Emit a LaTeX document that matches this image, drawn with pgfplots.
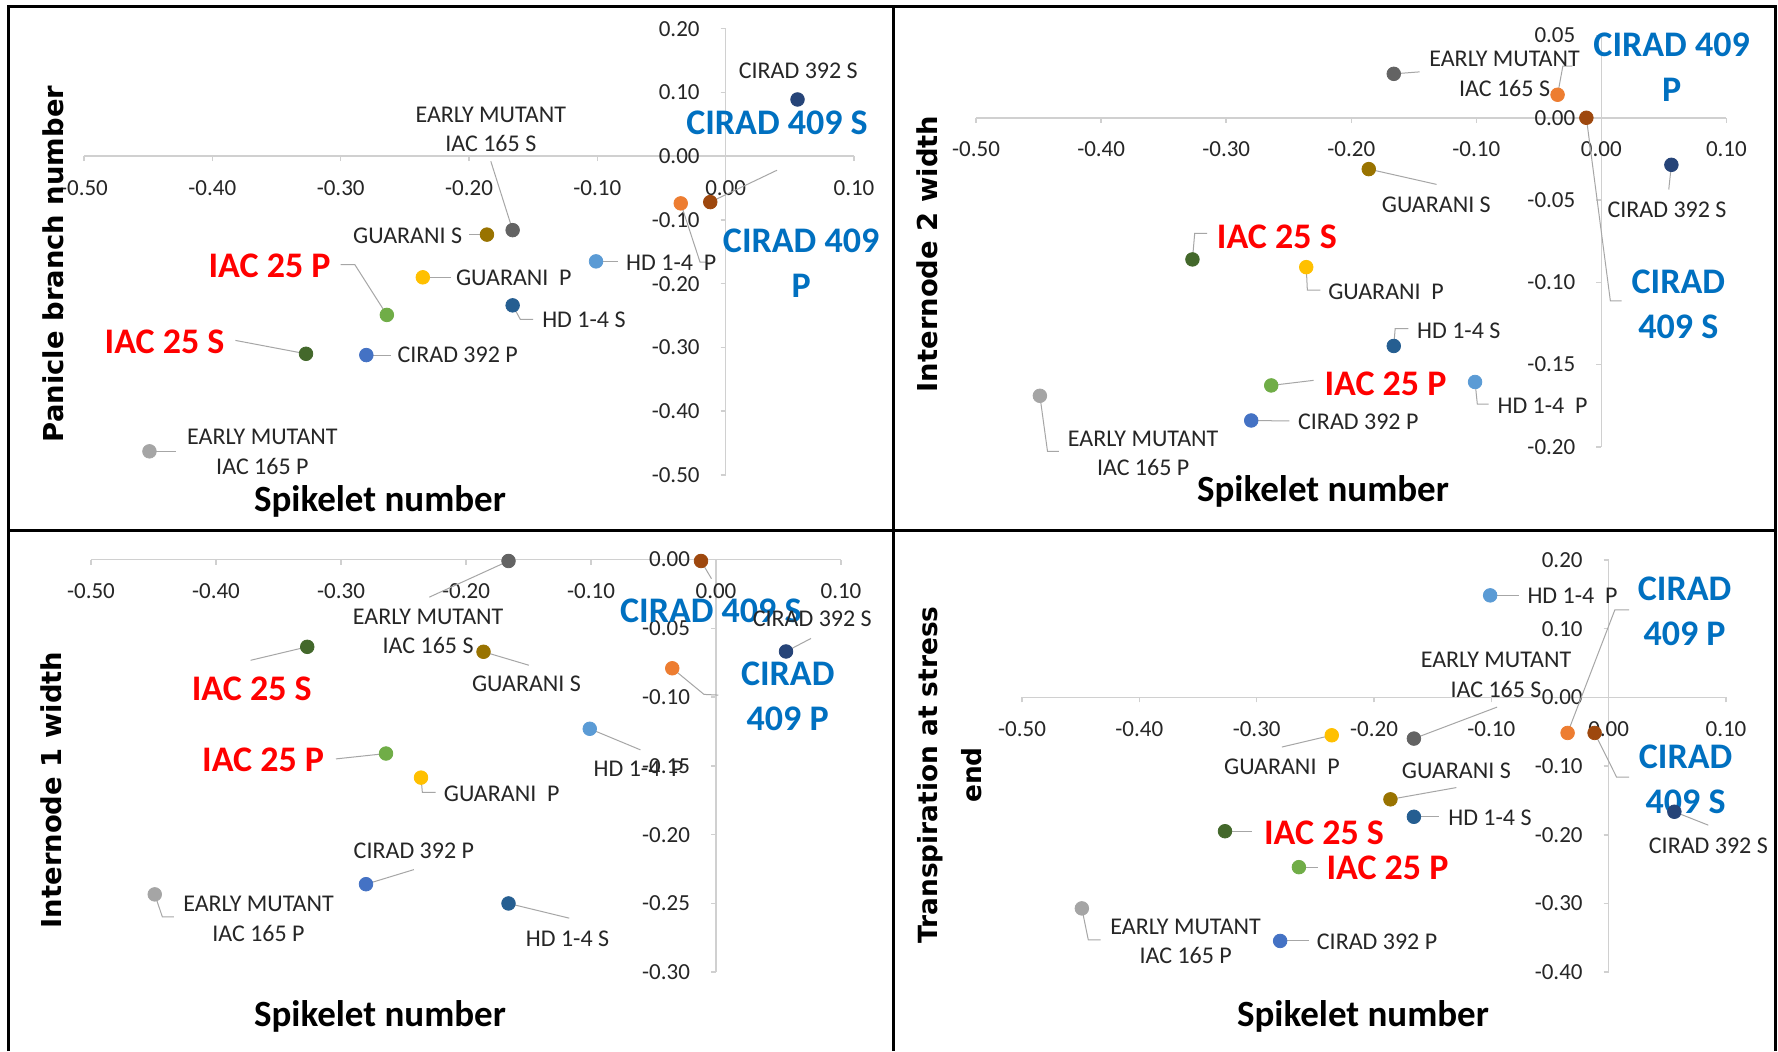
\documentclass[border=0pt]{standalone}
\usepackage{pgfplots}
\usepackage{pgfplotstable}
\pgfplotsset{compat=1.18}
\usepackage{fontspec}
\setmainfont{Carlito}
\newfontfamily\dvs{DejaVu Sans}
\definecolor{cA}{HTML}{264478}
\definecolor{cB}{HTML}{9E480E}
\definecolor{cC}{HTML}{ED7D31}
\definecolor{cD}{HTML}{636363}
\definecolor{cE}{HTML}{997300}
\definecolor{cF}{HTML}{5B9BD5}
\definecolor{cG}{HTML}{FFC000}
\definecolor{cH}{HTML}{255E91}
\definecolor{cI}{HTML}{70AD47}
\definecolor{cJ}{HTML}{43682B}
\definecolor{cK}{HTML}{4472C4}
\definecolor{cL}{HTML}{A5A5A5}
\definecolor{axgray}{HTML}{D0D0D0}
\definecolor{ldgray}{HTML}{A6A6A6}
\definecolor{txgray}{HTML}{262626}
\definecolor{bluelbl}{HTML}{0070C0}
\definecolor{redlbl}{HTML}{FF0000}

\pgfplotsset{
  panel/.style={
    scale only axis, anchor=south west,
    axis x line=middle, axis y line=middle,
    xmin=-0.5, xmax=0.1,
    xtick={-0.5,-0.4,-0.3,-0.2,-0.1,0,0.1},
    xticklabels={-0.50,-0.40,-0.30,-0.20,-0.10,0.00,0.10},
    axis line style={draw=axgray, line width=0.75pt, -},
    tick style={draw=axgray, line width=0.75pt},
    tick align=outside, major tick length=2.5pt,
    hide obscured x ticks=false, hide obscured y ticks=false,
    ticklabel style={font=\fontsize{11.5}{13}\selectfont, text=txgray},
    xticklabel style={yshift=-6pt},
    yticklabel style={xshift=-7pt},
    clip=false, enlargelimits=false,
  },
  gcls/.style={scatter, only marks, scatter src=explicit symbolic, mark size=3.4pt,
    scatter/classes={
      a={mark=*, draw=cA, fill=cA}, b={mark=*, draw=cB, fill=cB},
      c={mark=*, draw=cC, fill=cC}, d={mark=*, draw=cD, fill=cD},
      e={mark=*, draw=cE, fill=cE}, f={mark=*, draw=cF, fill=cF},
      g={mark=*, draw=cG, fill=cG}, h={mark=*, draw=cH, fill=cH},
      i={mark=*, draw=cI, fill=cI}, j={mark=*, draw=cJ, fill=cJ},
      k={mark=*, draw=cK, fill=cK}, l={mark=*, draw=cL, fill=cL}}},
}
\tikzset{
  ld/.style={draw=ldgray, line width=0.5pt},
  lb/.style={inner sep=0pt, font=\fontsize{12}{14.7}\selectfont, text=txgray, align=center},
  rd/.style={inner sep=0pt, font=\fontsize{18}{22.5}\selectfont\bfseries, text=redlbl, align=center},
  bl/.style={inner sep=0pt, font=\fontsize{18}{22.5}\selectfont\bfseries, text=bluelbl, align=center},
  xt/.style={inner sep=0pt, font=\fontsize{18.5}{22}\selectfont\bfseries, text=black},
  yt/.style={inner sep=0pt, font=\dvs\fontsize{13.7}{22}\selectfont\bfseries, text=black, rotate=90, align=center},
}

% columns: x = spikelet number loading, y = trait loading, g = genotype class
\pgfplotstableread{
x y g
0.056 0.089 a
-0.012 -0.072 b
-0.035 -0.074 c
-0.166 -0.116 d
-0.186 -0.123 e
-0.101 -0.165 f
-0.236 -0.190 g
-0.166 -0.234 h
-0.264 -0.249 i
-0.327 -0.310 j
-0.280 -0.312 k
-0.449 -0.463 l
}\dataA
\pgfplotstableread{
x y g
0.056 -0.0286 a
-0.012 0.000 b
-0.035 0.014 c
-0.166 0.0267 d
-0.186 -0.0312 e
-0.101 -0.1606 f
-0.236 -0.0908 g
-0.166 -0.1387 h
-0.264 -0.1627 i
-0.327 -0.0861 j
-0.280 -0.184 k
-0.449 -0.169 l
}\dataB
\pgfplotstableread{
x y g
0.056 -0.0668 a
-0.012 -0.001 b
-0.035 -0.079 c
-0.166 -0.001 d
-0.186 -0.067 e
-0.101 -0.123 f
-0.236 -0.1585 g
-0.166 -0.250 h
-0.264 -0.141 i
-0.327 -0.0634 j
-0.280 -0.236 k
-0.449 -0.2434 l
}\dataC
\pgfplotstableread{
x y g
0.056 -0.1665 a
-0.012 -0.0518 b
-0.035 -0.0518 c
-0.166 -0.060 d
-0.186 -0.1484 e
-0.101 0.1484 f
-0.236 -0.0552 g
-0.166 -0.1738 h
-0.264 -0.2471 i
-0.327 -0.1948 j
-0.280 -0.3545 k
-0.449 -0.3071 l
}\dataD

\begin{document}
\begin{tikzpicture}
\useasboundingbox (0,0) rectangle (889pt,-525.5pt);
\fill[white] (0,0) rectangle (889pt,-525.5pt);

% ---------- Panel 1 ----------
\begin{axis}[panel, at={(42pt,-237.45pt)}, width=385pt, height=223.1pt,
  ymin=-0.5, ymax=0.2,
  ytick={-0.5,-0.4,-0.3,-0.2,-0.1,0,0.1,0.2},
  yticklabels={-0.50,-0.40,-0.30,-0.20,-0.10,0.00,0.10,0.20}]
\draw[ld] (axis cs:0.040,-0.022) -- (axis cs:-0.012,-0.072);
\draw[ld] (axis cs:-0.035,-0.074) -- (axis cs:-0.020,-0.166) -- (axis cs:-0.015,-0.166);
\draw[ld] (axis cs:-0.183,-0.008) -- (axis cs:-0.166,-0.116);
\draw[ld] (axis cs:-0.200,-0.123) -- (axis cs:-0.186,-0.123);
\draw[ld] (axis cs:-0.300,-0.170) -- (axis cs:-0.289,-0.170) -- (axis cs:-0.264,-0.249);
\draw[ld] (axis cs:-0.236,-0.190) -- (axis cs:-0.214,-0.190);
\draw[ld] (axis cs:-0.101,-0.165) -- (axis cs:-0.084,-0.165);
\draw[ld] (axis cs:-0.166,-0.234) -- (axis cs:-0.160,-0.256) -- (axis cs:-0.150,-0.256);
\draw[ld] (axis cs:-0.382,-0.289) -- (axis cs:-0.327,-0.310);
\draw[ld] (axis cs:-0.280,-0.312) -- (axis cs:-0.261,-0.312);
\draw[ld] (axis cs:-0.449,-0.463) -- (axis cs:-0.428,-0.463);
\addplot[gcls] table[x=x,y=y,meta=g] {\dataA};
\node[lb] at (axis cs:0.0566,0.1336) {CIRAD 392 S};
\node[bl] at (axis cs:0.040,0.053) {CIRAD 409 S};
\node[bl] at (axis cs:0.0588,-0.1686) {CIRAD 409\\P};
\node[lb] at (axis cs:-0.183,0.0419) {EARLY MUTANT\\IAC 165 S};
\node[lb, anchor=east] at (axis cs:-0.2051,-0.125) {GUARANI S};
\node[rd] at (axis cs:-0.3554,-0.172) {IAC 25 P};
\node[lb, anchor=west] at (axis cs:-0.2104,-0.191) {GUARANI\hspace{0.45em}P};
\node[lb, anchor=west] at (axis cs:-0.0778,-0.167) {HD 1-4\hspace{0.45em}P};
\node[lb, anchor=west] at (axis cs:-0.1432,-0.256) {HD 1-4 S};
\node[rd] at (axis cs:-0.4372,-0.2906) {IAC 25 S};
\node[lb, anchor=west] at (axis cs:-0.256,-0.312) {CIRAD 392 P};
\node[lb] at (axis cs:-0.361,-0.464) {EARLY MUTANT\\IAC 165 P};
\end{axis}

% ---------- Panel 2 ----------
\begin{axis}[panel, at={(488.05pt,-223.4pt)}, width=375.15pt, height=205.65pt,
  ymin=-0.2, ymax=0.05,
  ytick={-0.2,-0.15,-0.1,-0.05,0,0.05},
  yticklabels={-0.20,-0.15,-0.10,-0.05,0.00,0.05}]
\draw[ld] (axis cs:-0.166,0.0267) -- (axis cs:-0.1454,0.0279);
\draw[ld] (axis cs:-0.035,0.014) -- (axis cs:-0.0308,0.0314) -- (axis cs:-0.0231,0.0314);
\draw[ld] (axis cs:-0.012,0.0) -- (axis cs:0.0072,-0.1113) -- (axis cs:0.0163,-0.1113);
\draw[ld] (axis cs:-0.186,-0.0312) -- (axis cs:-0.1318,-0.0405);
\draw[ld] (axis cs:0.056,-0.0286) -- (axis cs:0.0539,-0.0436);
\draw[ld] (axis cs:-0.327,-0.0861) -- (axis cs:-0.3252,-0.0703) -- (axis cs:-0.3152,-0.0703);
\draw[ld] (axis cs:-0.236,-0.0908) -- (axis cs:-0.2351,-0.1048) -- (axis cs:-0.2246,-0.1048);
\draw[ld] (axis cs:-0.166,-0.1387) -- (axis cs:-0.1649,-0.1282) -- (axis cs:-0.1544,-0.1282);
\draw[ld] (axis cs:-0.264,-0.1627) -- (axis cs:-0.2301,-0.1596);
\draw[ld] (axis cs:-0.101,-0.1606) -- (axis cs:-0.0992,-0.174) -- (axis cs:-0.0901,-0.174);
\draw[ld] (axis cs:-0.280,-0.184) -- (axis cs:-0.2495,-0.1843);
\draw[ld] (axis cs:-0.449,-0.169) -- (axis cs:-0.4429,-0.2028) -- (axis cs:-0.4339,-0.2028);
\addplot[gcls] table[x=x,y=y,meta=g] {\dataB};
\node[lb] at (axis cs:-0.0774,0.0267) {EARLY MUTANT\\IAC 165 S};
\node[bl] at (axis cs:0.0562,0.0308) {CIRAD 409\\P};
\node[lb] at (axis cs:-0.132,-0.0528) {GUARANI S};
\node[lb] at (axis cs:0.0525,-0.0559) {CIRAD 392 S};
\node[rd] at (axis cs:-0.2595,-0.0723) {IAC 25 S};
\node[lb, anchor=west] at (axis cs:-0.2187,-0.1056) {GUARANI\hspace{0.45em}P};
\node[bl] at (axis cs:0.0616,-0.1134) {CIRAD\\409 S};
\node[lb, anchor=west] at (axis cs:-0.1476,-0.1294) {HD 1-4 S};
\node[rd] at (axis cs:-0.1726,-0.1617) {IAC 25 P};
\node[lb, anchor=west] at (axis cs:-0.0833,-0.175) {HD 1-4\hspace{0.45em}P};
\node[lb, anchor=west] at (axis cs:-0.2428,-0.1849) {CIRAD 392 P};
\node[lb] at (axis cs:-0.3664,-0.204) {EARLY MUTANT\\IAC 165 P};
\end{axis}

% ---------- Panel 3 ----------
\begin{axis}[panel, at={(45.5pt,-486.1pt)}, width=375pt, height=206.3pt,
  ymin=-0.3, ymax=0,
  ytick={-0.3,-0.25,-0.2,-0.15,-0.1,-0.05,0},
  yticklabels={-0.30,-0.25,-0.20,-0.15,-0.10,-0.05,0.00}]
\draw[ld] (axis cs:-0.166,-0.001) -- (axis cs:-0.2294,-0.0273);
\draw[ld] (axis cs:-0.012,-0.001) -- (axis cs:-0.0036,-0.0139);
\draw[ld] (axis cs:0.056,-0.0668) -- (axis cs:0.076,-0.0573);
\draw[ld] (axis cs:-0.327,-0.0634) -- (axis cs:-0.3723,-0.0732);
\draw[ld] (axis cs:-0.186,-0.067) -- (axis cs:-0.1497,-0.0768);
\draw[ld] (axis cs:-0.035,-0.079) -- (axis cs:-0.0096,-0.098) -- (axis cs:0.0018,-0.0985);
\draw[ld] (axis cs:-0.101,-0.123) -- (axis cs:-0.0605,-0.1383);
\draw[ld] (axis cs:-0.264,-0.141) -- (axis cs:-0.304,-0.1449);
\draw[ld] (axis cs:-0.236,-0.1585) -- (axis cs:-0.2349,-0.1693) -- (axis cs:-0.2244,-0.1693);
\draw[ld] (axis cs:-0.280,-0.236) -- (axis cs:-0.2417,-0.2254);
\draw[ld] (axis cs:-0.449,-0.2434) -- (axis cs:-0.4429,-0.2598) -- (axis cs:-0.4338,-0.2598);
\draw[ld] (axis cs:-0.166,-0.250) -- (axis cs:-0.1174,-0.2607);
\addplot[gcls] table[x=x,y=y,meta=g] {\dataC};
\node[lb] at (axis cs:-0.2303,-0.052) {EARLY MUTANT\\IAC 165 S};
\node[bl] at (axis cs:-0.0041,-0.0371) {CIRAD 409 S};
\node[lb] at (axis cs:0.077,-0.0432) {CIRAD 392 S};
\node[rd] at (axis cs:-0.3714,-0.0937) {IAC 25 S};
\node[lb] at (axis cs:-0.1516,-0.0902) {GUARANI S};
\node[bl] at (axis cs:0.0574,-0.0993) {CIRAD\\409 P};
\node[lb] at (axis cs:-0.0619,-0.1524) {HD 1-4\hspace{0.45em}P};
\node[rd] at (axis cs:-0.3623,-0.1456) {IAC 25 P};
\node[lb, anchor=west] at (axis cs:-0.218,-0.170) {GUARANI\hspace{0.45em}P};
\node[lb] at (axis cs:-0.2417,-0.212) {CIRAD 392 P};
\node[lb] at (axis cs:-0.366,-0.2612) {EARLY MUTANT\\IAC 165 P};
\node[lb] at (axis cs:-0.1188,-0.2756) {HD 1-4 S};
\end{axis}

% ---------- Panel 4 ----------
\begin{axis}[panel, at={(511pt,-486.1pt)}, width=352pt, height=206.15pt,
  ymin=-0.4, ymax=0.2,
  ytick={-0.4,-0.3,-0.2,-0.1,0,0.1,0.2},
  yticklabels={-0.40,-0.30,-0.20,-0.10,0.00,0.10,0.20}]
\draw[ld] (axis cs:-0.101,0.1484) -- (axis cs:-0.0767,0.1484);
\draw[ld] (axis cs:-0.035,-0.0518) -- (axis cs:0.0053,0.1274) -- (axis cs:0.0174,0.1274);
\draw[ld] (axis cs:-0.166,-0.060) -- (axis cs:-0.0951,-0.0142);
\draw[ld] (axis cs:-0.236,-0.0552) -- (axis cs:-0.2785,-0.0723);
\draw[ld] (axis cs:-0.186,-0.1484) -- (axis cs:-0.1298,-0.1313);
\draw[ld] (axis cs:-0.012,-0.0518) -- (axis cs:0.0068,-0.1162) -- (axis cs:0.0174,-0.1162);
\draw[ld] (axis cs:-0.166,-0.1738) -- (axis cs:-0.1443,-0.1738);
\draw[ld] (axis cs:0.056,-0.1665) -- (axis cs:0.0849,-0.186);
\draw[ld] (axis cs:-0.327,-0.1948) -- (axis cs:-0.3036,-0.1948);
\draw[ld] (axis cs:-0.264,-0.2471) -- (axis cs:-0.2481,-0.2471);
\draw[ld] (axis cs:-0.449,-0.3071) -- (axis cs:-0.4435,-0.353) -- (axis cs:-0.4329,-0.353);
\draw[ld] (axis cs:-0.280,-0.3545) -- (axis cs:-0.2553,-0.3545);
\addplot[gcls] table[x=x,y=y,meta=g] {\dataD};
\node[lb, anchor=west] at (axis cs:-0.0695,0.1484) {HD 1-4\hspace{0.45em}P};
\node[bl] at (axis cs:0.0647,0.125) {CIRAD\\409 P};
\node[lb] at (axis cs:-0.096,0.0327) {EARLY MUTANT\\IAC 165 S};
\node[lb] at (axis cs:-0.2785,-0.1006) {GUARANI\hspace{0.45em}P};
\node[lb] at (axis cs:-0.1298,-0.1064) {GUARANI S};
\node[bl] at (axis cs:0.0656,-0.119) {CIRAD\\409 S};
\node[lb, anchor=west] at (axis cs:-0.137,-0.175) {HD 1-4 S};
\node[lb] at (axis cs:0.085,-0.2163) {CIRAD 392 S};
\node[rd, anchor=west] at (axis cs:-0.294,-0.1973) {IAC 25 S};
\node[rd, anchor=west] at (axis cs:-0.2408,-0.248) {IAC 25 P};
\node[lb] at (axis cs:-0.3605,-0.355) {EARLY MUTANT\\IAC 165 P};
\node[lb, anchor=west] at (axis cs:-0.249,-0.3555) {CIRAD 392 P};
\end{axis}

% axis titles
\node[xt] at (190pt,-250.5pt) {Spikelet number};
\node[xt] at (661.5pt,-245.5pt) {Spikelet number};
\node[xt] at (190pt,-508pt) {Spikelet number};
\node[xt] at (681.5pt,-508pt) {Spikelet number};
\node[yt] at (26.5pt,-132pt) {Panicle branch number};
\node[yt] at (463.8pt,-127pt) {Internode 2 width};
\node[yt] at (25.5pt,-395pt) {Internode 1 width};
\node[yt, font=\dvs\fontsize{13.2}{22}\selectfont\bfseries] at (475pt,-387.5pt) {Transpiration at stress\\end};

% panel frame
\draw[line width=1.5pt] (4pt,-525.5pt) -- (4pt,-3pt) -- (887.5pt,-3pt) -- (887.5pt,-525.5pt);
\draw[line width=1.5pt] (4pt,-265pt) -- (887.5pt,-265pt);
\draw[line width=1.5pt] (446.5pt,-3pt) -- (446.5pt,-525.5pt);
\end{tikzpicture}
\end{document}
